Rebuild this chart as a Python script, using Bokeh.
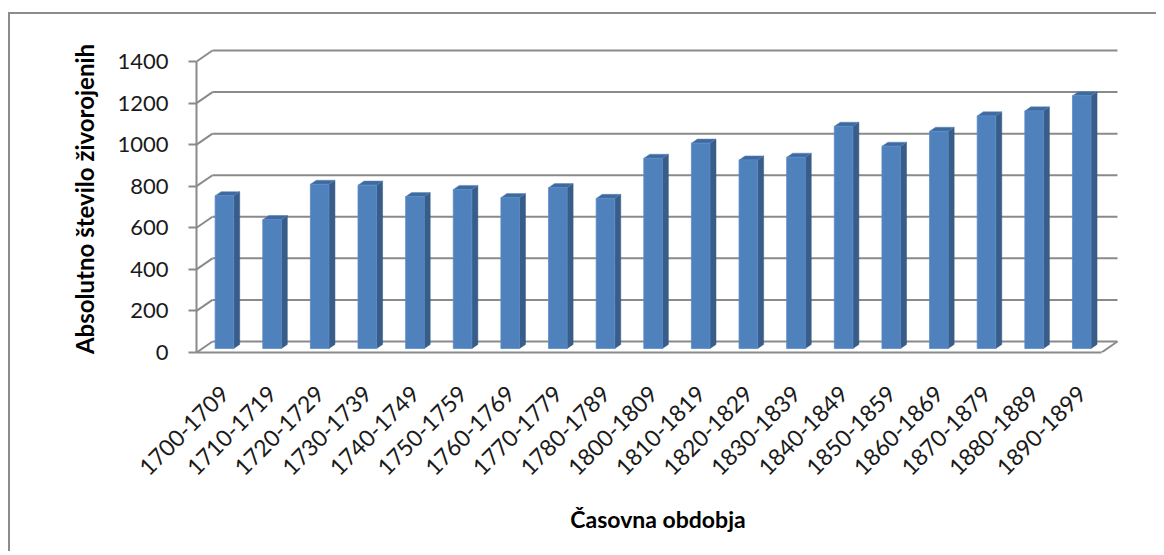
import math
from bokeh.plotting import figure
from bokeh.models import Range1d, FixedTicker
from bokeh.embed import file_html
from bokeh.resources import INLINE

categories = ["1700-1709", "1710-1719", "1720-1729", "1730-1739", "1740-1749",
              "1750-1759", "1760-1769", "1770-1779", "1780-1789", "1800-1809",
              "1810-1819", "1820-1829", "1830-1839", "1840-1849", "1850-1859",
              "1860-1869", "1870-1879", "1880-1889", "1890-1899"]
values = [735, 620, 790, 786, 731, 765, 726, 774, 722, 915,
          988, 907, 920, 1069, 973, 1045, 1119, 1143, 1216]
y_ticks = [0, 200, 400, 600, 800, 1000, 1200, 1400]
y_axis_title = "Absolutno število živorojenih"
x_axis_title = "Časovna obdobja"

# ---- pseudo-3D geometry (styling) ----
PX_PER_CAT = 47.63
PX_PER_VAL = 291 / 1400
DX = 16 / PX_PER_CAT          # depth shift in x units
DY = 11 / PX_PER_VAL          # depth shift in y units
A = 0.59                      # tick offset inside a category
F0 = 0.36                     # bar front depth fraction
BD = 0.375                    # bar depth fraction
BAR_L = 0.27                  # bar left inside category
BAR_W = 0.39                  # bar width
N = len(categories)

FRAME_W = 923
FRAME_H = 307
x0r = -A
x1r = -A + FRAME_W / PX_PER_CAT
y1r = FRAME_H / PX_PER_VAL

p = figure(width=1148, height=539, output_backend="svg", toolbar_location=None,
           x_range=Range1d(x0r, x1r), y_range=Range1d(0, y1r),
           min_border_left=186, min_border_right=39, min_border_top=31,
           min_border_bottom=201, tools="")
p.styles = {"border-top": "2px solid #8c8c8c", "border-left": "2px solid #8c8c8c",
            "margin-top": "12px", "margin-left": "8px"}
p.outline_line_color = None
p.background_fill_color = "white"
p.border_fill_color = "white"
p.xgrid.visible = False
p.ygrid.visible = False

GRID = "#8a8a8a"
# back wall gridlines and left wall diagonals
bx, by, lx, ly = [], [], [], []
for t in y_ticks:
    bx.append([-A + DX, -A + N + DX])
    by.append([t + DY, t + DY])
    lx.append([-A, -A + DX])
    ly.append([t, t + DY])
p.multi_line(bx, by, line_color=GRID, line_width=2)
p.multi_line(lx, ly, line_color=GRID, line_width=2)
# floor right edge
p.line([-A + N, -A + N + DX], [0, DY], line_color=GRID, line_width=2)

# bars
fl, fr, fb, ft = [], [], [], []
sxs, sys_, txs, tys = [], [], [], []
for i, v in enumerate(values):
    xl = i - A + BAR_L + F0 * DX
    xr = xl + BAR_W
    b = F0 * DY
    top = v + b
    ddx, ddy = BD * DX, BD * DY
    fl.append(xl); fr.append(xr); fb.append(b); ft.append(top)
    sxs.append([xr, xr + ddx, xr + ddx, xr])
    sys_.append([b, b + ddy, top + ddy, top])
    txs.append([xl, xr, xr + ddx, xl + ddx])
    tys.append([top, top, top + ddy, top + ddy])
p.patches(sxs, sys_, fill_color="#385D8A", line_color="#35587F", line_width=0.5)
p.patches(txs, tys, fill_color="#3E6A9F", line_color="#5A86BD", line_width=0.5)
p.quad(left=fl, right=fr, bottom=fb, top=ft, fill_color="#4F81BD",
       line_color="#5B8CC6", line_width=0.8)

FONT = "Lato"
# y axis
ya = p.yaxis[0]
ya.ticker = FixedTicker(ticks=y_ticks)
ya.bounds = (0, 1400)
ya.axis_line_color = GRID
ya.axis_line_width = 2
ya.major_tick_line_color = GRID
ya.major_tick_line_width = 2
ya.major_tick_out = 8
ya.major_tick_in = 0
ya.minor_tick_line_color = None
ya.major_label_standoff = 20
ya.major_label_text_font = FONT
ya.major_label_text_font_size = "22px"
ya.major_label_text_color = "#1a1a1a"
ya.axis_label = y_axis_title
ya.axis_label_text_font = FONT
ya.axis_label_text_font_style = "bold"
ya.axis_label_text_font_size = "24px"
ya.axis_label_text_color = "#000000"
ya.axis_label_standoff = 15

# x axis
xa = p.xaxis[0]
xa.ticker = FixedTicker(ticks=list(range(N)))
xa.major_label_overrides = {i: c for i, c in enumerate(categories)}
xa.bounds = (-A, -A + N)
xa.axis_line_color = GRID
xa.axis_line_width = 2
xa.major_tick_line_color = None
xa.minor_tick_line_color = None
xa.major_label_orientation = math.pi / 4
xa.major_label_standoff = 31
xa.major_label_text_font = FONT
xa.major_label_text_font_size = "23px"
xa.major_label_text_color = "#1a1a1a"
xa.axis_label = x_axis_title
xa.axis_label_text_font = FONT
xa.axis_label_text_font_style = "bold"
xa.axis_label_text_font_size = "23px"
xa.axis_label_text_color = "#000000"
xa.axis_label_standoff = 19

open("out.html", "w").write(file_html(p, INLINE))
